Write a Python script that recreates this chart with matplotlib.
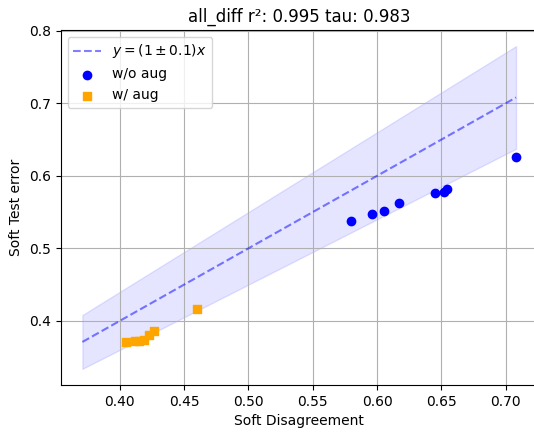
import numpy as np
import matplotlib
matplotlib.use("Agg")
import matplotlib.pyplot as plt

# Soft disagreement vs soft test error
no_aug_x = [0.580, 0.596, 0.605, 0.617, 0.645, 0.652, 0.654, 0.708]
no_aug_y = [0.538, 0.547, 0.552, 0.563, 0.576, 0.578, 0.582, 0.626]

aug_x = [0.405, 0.412, 0.415, 0.419, 0.423, 0.427, 0.460]
aug_y = [0.371, 0.372, 0.372, 0.373, 0.380, 0.386, 0.416]

TITLE = "all_diff r²: 0.995 tau: 0.983"

fig = plt.figure(figsize=(5.34, 4.32), dpi=100)
# axes run slightly past the right edge, as in the cropped original
ax = fig.add_axes([0.1137, 0.1088, 0.8933, 0.8218])

all_vals = np.concatenate([no_aug_x, no_aug_y, aug_x, aug_y])
xs = np.linspace(all_vals.min(), all_vals.max(), 100)

ax.plot(xs, xs, "--", color="blue", alpha=0.5, label=r"$y = (1 \pm 0.1)x$")
ax.fill_between(xs, xs * 0.9, xs * 1.1, color="blue", alpha=0.1)

ax.scatter(no_aug_x, no_aug_y, color="blue", marker="o", label="w/o aug", zorder=3)
ax.scatter(aug_x, aug_y, color="orange", marker="s", label="w/ aug", zorder=3)

ax.set_xlabel("Soft Disagreement")
ax.set_ylabel("Soft Test error")
ax.set_title(TITLE)
ax.legend(loc="upper left")
ax.grid(True)

fig.savefig("out.png", dpi=100)
